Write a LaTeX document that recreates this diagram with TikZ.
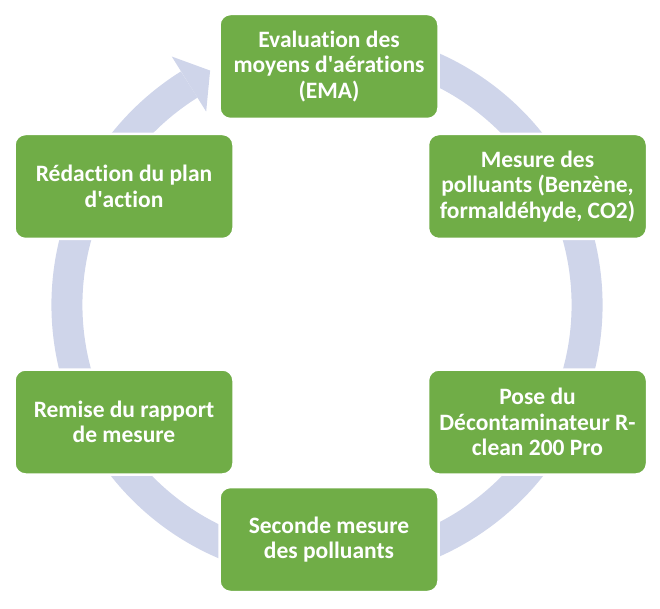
\documentclass[tikz,border=0pt]{standalone}
\usepackage{fontspec}
\setmainfont{Carlito}[Ligatures=NoCommon]
\definecolor{cycGreen}{HTML}{70AD47}
\definecolor{cycLav}{HTML}{CFD5EA}
\begin{document}
\begin{tikzpicture}[
  x=1pt, y=1pt,
  cycBox/.style = {draw=white, line width=2.5pt, fill=cycGreen, rounded corners=11pt,
    minimum width=219pt, minimum height=105pt, align=center, text=white, inner xsep=2pt,
    font=\fontsize{23.5}{25.5}\selectfont\bfseries},
  cycRing/.style = {cycLav, line width=31pt},
  cycHead/.style = {fill=cycLav}
]
  \useasboundingbox (0,0) rectangle (660,608);
  \coordinate (cc) at (327,303);
  % anneau
  \draw[cycRing] ([shift={(cc)}]70:260) arc[start angle=70, end angle=-238, radius=260];
  \fill[cycHead] ([shift={(cc)}]122:228) -- ([shift={(cc)}]116.5:262)
    -- ([shift={(cc)}]122:293) -- cycle;
  % etapes
  \node[cycBox] (ema) at (329,541.5) {Evaluation des\\moyens d\textquotesingle aérations\\(EMA)};
  \node[cycBox] (mesure) at (537.5,421.5) {Mesure des\\polluants (Benzène,\\formaldéhyde, CO2)};
  \node[cycBox] (pose) at (537.5,186) {Pose du\\Décontaminateur R-\\clean 200 Pro};
  \node[cycBox] (seconde) at (329,68.5) {Seconde mesure\\des polluants};
  \node[cycBox] (remise) at (124,186) {Remise du rapport\\de mesure};
  \node[cycBox] (redaction) at (124,421.5) {Rédaction du plan\\d\textquotesingle action};
\end{tikzpicture}
\end{document}
